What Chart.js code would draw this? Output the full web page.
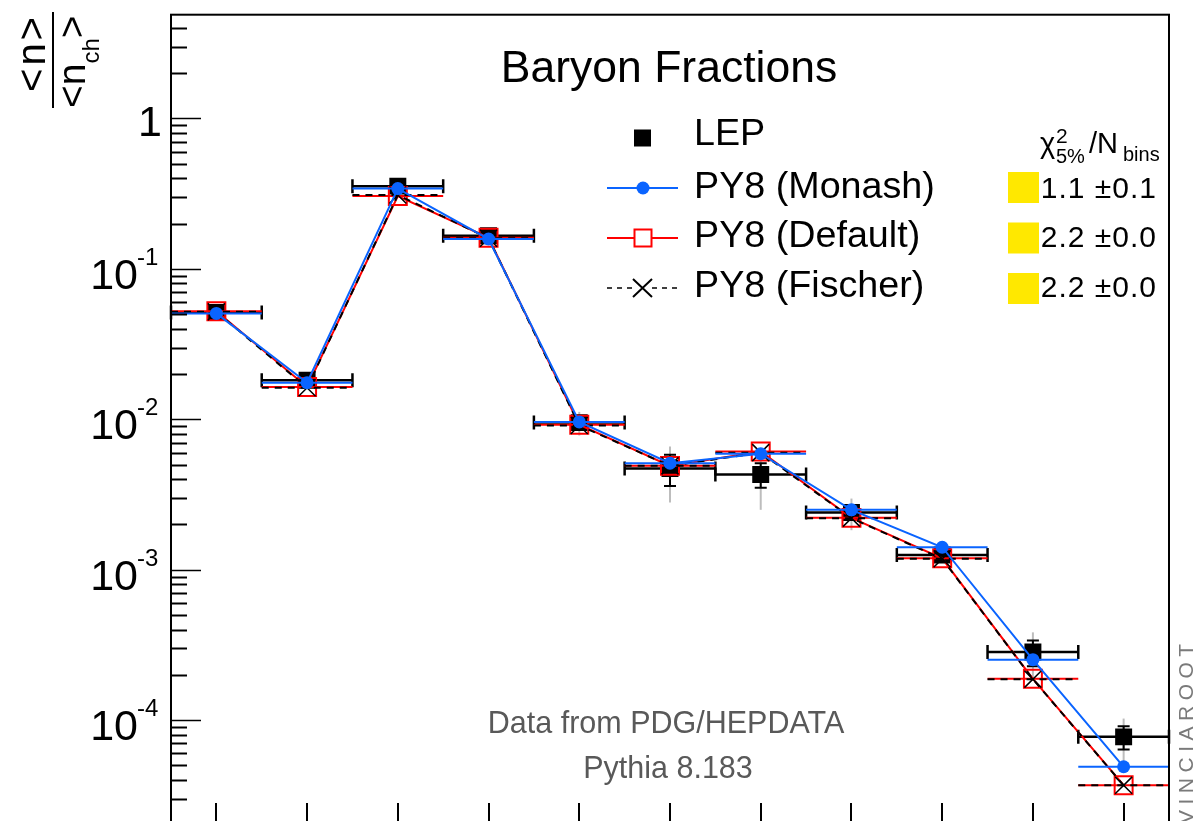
<!DOCTYPE html>
<html>
<head>
<meta charset="utf-8">
<script src="https://cdn.jsdelivr.net/npm/chart.js@4/dist/chart.umd.min.js"></script>
<style>
    html, body { margin: 0; padding: 0; width: 1197px; height: 821px; overflow: hidden; background: #ffffff; }
    #wrap { width: 1197px; height: 821px; overflow: hidden; }
    canvas { display: block; }
</style>
</head>
<body>
<div id="wrap"><canvas id="chart" width="1197" height="860"></canvas></div>
<script>
const FONT = '"Liberation Sans", Arial, Helvetica, sans-serif';
const BLUE = '#0a64ff';
const RED = '#ff0000';
const BLACK = '#000000';
const GREY_ERR = '#bdbdbd';
const YELLOW = '#ffe800';

// axis range
const Y_MIN = 1.774e-5;
const Y_MAX = 4.9;

// bins
const BIN_LOW = [0, 1, 2, 3, 4, 5, 6, 7, 8, 9, 10];
const BIN_HIGH = [1, 2, 3, 4, 5, 6, 7, 8, 9, 10, 11];

// series
const LEP = [0.0513, 0.0182, 0.355, 0.166, 0.0095, 0.0047, 0.0043, 0.0024, 0.00125, 0.000283, 0.0000773];
const LEP_STAT = [0.0008, 0.0004, 0.008, 0.004, 0.0003, 0.0011, 0.0008, 0.0002, 0.00005, 0.000055, 0.0000135];
const LEP_TOTAL = [0.0015, 0.0008, 0.015, 0.008, 0.0017, 0.0019, 0.0018, 0.00057, 0.0001, 0.0001, 0.000025];
const MONASH = [0.0506, 0.0175, 0.342, 0.158, 0.0096, 0.0051, 0.0059, 0.0025, 0.00141, 0.000252, 0.0000489];
const DEFAULT_TUNE = [0.0522, 0.0164, 0.305, 0.161, 0.0092, 0.0049, 0.0061, 0.00221, 0.00119, 0.000188, 0.0000369];
const FISCHER = [0.0518, 0.0162, 0.31, 0.16, 0.0091, 0.0049, 0.006, 0.0022, 0.00118, 0.000187, 0.0000368];

const SERIES_NAMES = ['LEP', 'PY8 (Monash)', 'PY8 (Default)', 'PY8 (Fischer)'];
const CHI2 = ['1.1 \u00b10.1', '2.2 \u00b10.0', '2.2 \u00b10.0'];

// y tick labels
const DECADES = [1e-4, 1e-3, 1e-2, 1e-1, 1];
const DECADE_EXP = ['-4', '-3', '-2', '-1', ''];

function toPoints(values) {
    return values.map((v, i) => ({ x: (BIN_LOW[i] + BIN_HIGH[i]) / 2, y: v }));
}

function font(size) {
    return `${size}px ${FONT}`;
}

// horizontal bin bars + vertical errors, drawn just before each dataset's markers
const binBars = {
    id: 'binBars',
    beforeDatasetDraw(chart, args) {
        const ds = chart.data.datasets[args.index];
        const { x, y } = chart.scales;
        const ctx = chart.ctx;
        ctx.save();

        ds.values.forEach((v, i) => {
            const px = x.getPixelForValue((BIN_LOW[i] + BIN_HIGH[i]) / 2);
            const py = y.getPixelForValue(v);

            if (ds.totalErr) {
                const e = ds.totalErr[i];
                ctx.strokeStyle = GREY_ERR;
                ctx.lineWidth = 2;
                ctx.setLineDash([]);
                ctx.beginPath();
                ctx.moveTo(px, y.getPixelForValue(v + e));
                ctx.lineTo(px, y.getPixelForValue(Math.max(v - e, Y_MIN)));
                ctx.stroke();
            }
            if (ds.statErr) {
                const e = ds.statErr[i];
                const top = y.getPixelForValue(v + e);
                const bot = y.getPixelForValue(v - e);
                ctx.strokeStyle = BLACK;
                ctx.lineWidth = 2;
                ctx.beginPath();
                ctx.moveTo(px, top);
                ctx.lineTo(px, bot);
                ctx.moveTo(px - 6, top);
                ctx.lineTo(px + 6, top);
                ctx.moveTo(px - 6, bot);
                ctx.lineTo(px + 6, bot);
                ctx.stroke();
            }

            const x0 = x.getPixelForValue(BIN_LOW[i]);
            const x1 = x.getPixelForValue(BIN_HIGH[i]);
            ctx.strokeStyle = ds.hbar.color;
            ctx.lineWidth = ds.hbar.width;
            ctx.setLineDash(ds.hbar.dash);
            ctx.beginPath();
            ctx.moveTo(x0, py);
            ctx.lineTo(x1, py);
            ctx.stroke();
            ctx.setLineDash([]);
            if (ds.hbar.caps) {
                ctx.beginPath();
                ctx.moveTo(x0, py - 7);
                ctx.lineTo(x0, py + 7);
                ctx.moveTo(x1, py - 7);
                ctx.lineTo(x1, py + 7);
                ctx.stroke();
            }
        });

        ctx.restore();
    },
};

// ROOT-like frame, ticks, labels, legend and captions
const decorations = {
    id: 'decorations',
    afterDraw(chart) {
        const ctx = chart.ctx;
        const { left, right, top, bottom } = chart.chartArea;
        const { x, y } = chart.scales;
        ctx.save();

        // frame
        ctx.strokeStyle = BLACK;
        ctx.lineWidth = 2;
        ctx.strokeRect(left, top, right - left, bottom - top);

        // y ticks (inward)
        for (let d = -6; d <= 1; d++) {
            for (let k = 1; k <= 9; k++) {
                const v = k * Math.pow(10, d);
                if (v < Y_MIN || v > Y_MAX) continue;
                const py = Math.round(y.getPixelForValue(v)) + 0.5;
                ctx.lineWidth = k === 1 ? 1.5 : 2;
                ctx.beginPath();
                ctx.moveTo(left, py);
                ctx.lineTo(left + (k === 1 ? 30 : 16), py);
                ctx.stroke();
            }
        }

        // x ticks at bin centres
        ctx.lineWidth = 2;
        BIN_LOW.forEach((lo, i) => {
            const px = Math.round(x.getPixelForValue((lo + BIN_HIGH[i]) / 2));
            ctx.beginPath();
            ctx.moveTo(px, bottom);
            ctx.lineTo(px, bottom - 30);
            ctx.stroke();
        });

        // y tick labels
        ctx.fillStyle = BLACK;
        ctx.textBaseline = 'alphabetic';
        DECADES.forEach((v, i) => {
            const py = y.getPixelForValue(v);
            if (DECADE_EXP[i] === '') {
                ctx.font = font(43);
                ctx.textAlign = 'right';
                ctx.fillText('1', 162, py + 18);
            } else {
                ctx.font = font(43);
                ctx.textAlign = 'right';
                ctx.fillText('10', 138, py + 20);
                ctx.font = font(24);
                ctx.textAlign = 'left';
                ctx.fillText(DECADE_EXP[i], 137, py - 4);
            }
        });

        // y axis title: <n> / <n_ch>, rotated
        ctx.save();
        ctx.translate(53, 60);
        ctx.rotate(-Math.PI / 2);
        ctx.lineWidth = 2;
        ctx.beginPath();
        ctx.moveTo(-48, 0);
        ctx.lineTo(48, 0);
        ctx.stroke();
        ctx.font = font(40);
        ctx.textAlign = 'center';
        ctx.letterSpacing = '3px';
        ctx.fillText('<n>', 7, -8);
        ctx.letterSpacing = '0px';
        ctx.textAlign = 'left';
        ctx.font = font(39);
        let cx = -48;
        ctx.fillText('<n', cx, 32);
        cx += ctx.measureText('<n').width;
        ctx.font = font(24);
        ctx.fillText('ch', cx, 46);
        cx += ctx.measureText('ch').width;
        ctx.font = font(39);
        ctx.fillText('>', cx, 32);
        ctx.restore();

        // title
        ctx.font = font(44.5);
        ctx.textAlign = 'center';
        ctx.fillText('Baryon Fractions', 669, 82);

        // legend
        const rows = [138, 188, 238, 288];
        const textBase = [145, 198, 247, 297];
        // LEP
        ctx.fillStyle = BLACK;
        ctx.fillRect(634, rows[0] - 8.5, 17, 17);
        // Monash
        ctx.strokeStyle = BLUE;
        ctx.lineWidth = 2;
        ctx.beginPath();
        ctx.moveTo(607, rows[1]);
        ctx.lineTo(678, rows[1]);
        ctx.stroke();
        ctx.fillStyle = BLUE;
        ctx.beginPath();
        ctx.arc(643, rows[1], 6.5, 0, Math.PI * 2);
        ctx.fill();
        // Default
        ctx.strokeStyle = RED;
        ctx.beginPath();
        ctx.moveTo(607, rows[2]);
        ctx.lineTo(634, rows[2]);
        ctx.moveTo(652, rows[2]);
        ctx.lineTo(678, rows[2]);
        ctx.stroke();
        ctx.strokeRect(634.5, rows[2] - 8.5, 17, 17);
        // Fischer
        ctx.strokeStyle = BLACK;
        ctx.lineWidth = 1.5;
        ctx.setLineDash([5, 5]);
        ctx.beginPath();
        ctx.moveTo(607, rows[3]);
        ctx.lineTo(634, rows[3]);
        ctx.moveTo(652, rows[3]);
        ctx.lineTo(680, rows[3]);
        ctx.stroke();
        ctx.setLineDash([]);
        ctx.lineWidth = 2;
        ctx.beginPath();
        ctx.moveTo(633, rows[3] - 9);
        ctx.lineTo(652, rows[3] + 9);
        ctx.moveTo(652, rows[3] - 9);
        ctx.lineTo(633, rows[3] + 9);
        ctx.stroke();

        ctx.fillStyle = BLACK;
        ctx.font = font(37.7);
        ctx.textAlign = 'left';
        SERIES_NAMES.forEach((name, i) => ctx.fillText(name, 694, textBase[i]));

        // chi2 column
        ctx.font = font(29);
        ctx.fillText('\u03c7', 1040, 153);
        ctx.font = font(21);
        ctx.fillText('2', 1056, 143);
        ctx.font = font(20);
        ctx.fillText('5%', 1056, 163);
        ctx.font = font(29);
        ctx.fillText('/N', 1089, 153);
        ctx.font = font(20);
        ctx.fillText('bins', 1123, 161);

        CHI2.forEach((txt, i) => {
            ctx.fillStyle = YELLOW;
            ctx.fillRect(1008, 172 + i * 50.5, 31, 31);
            ctx.fillStyle = BLACK;
            ctx.font = font(30);
            ctx.textAlign = 'right';
            ctx.letterSpacing = '1px';
            ctx.fillText(txt, 1157, textBase[i + 1]);
            ctx.letterSpacing = '0px';
        });

        // captions
        ctx.fillStyle = '#595959';
        ctx.font = font(30.5);
        ctx.textAlign = 'center';
        ctx.fillText('Data from PDG/HEPDATA', 666, 733);
        ctx.fillText('Pythia 8.183', 668, 778);

        // side stamp
        ctx.save();
        ctx.translate(1193, 824);
        ctx.rotate(-Math.PI / 2);
        ctx.fillStyle = '#7a7a7a';
        ctx.font = font(21);
        ctx.textAlign = 'left';
        ctx.letterSpacing = '5.5px';
        ctx.fillText('VINCIAROOT', 0, 0);
        ctx.restore();

        ctx.restore();
    },
};

new Chart(document.getElementById('chart'), {
    type: 'line',
    data: {
        datasets: [
            {
                label: SERIES_NAMES[1],
                data: toPoints(MONASH),
                values: MONASH,
                hbar: { color: BLUE, width: 2, dash: [], caps: false },
                order: 1,
                borderColor: BLUE,
                borderWidth: 2,
                pointStyle: 'circle',
                pointRadius: 6.5,
                pointBackgroundColor: BLUE,
                pointBorderWidth: 0,
                tension: 0,
            },
            {
                label: SERIES_NAMES[3],
                data: toPoints(FISCHER),
                values: FISCHER,
                hbar: { color: BLACK, width: 2, dash: [7, 6], caps: false },
                order: 2,
                borderColor: BLACK,
                borderWidth: 2,
                borderDash: [7, 6],
                pointStyle: 'crossRot',
                pointRadius: 12,
                pointBorderColor: BLACK,
                pointBorderWidth: 1.5,
                tension: 0,
            },
            {
                label: SERIES_NAMES[2],
                data: toPoints(DEFAULT_TUNE),
                values: DEFAULT_TUNE,
                hbar: { color: RED, width: 2, dash: [], caps: false },
                order: 3,
                borderColor: RED,
                borderWidth: 2,
                pointStyle: 'rect',
                pointRadius: 12.7,
                pointBackgroundColor: 'rgba(0,0,0,0)',
                pointBorderColor: RED,
                pointBorderWidth: 2,
                tension: 0,
            },
            {
                label: SERIES_NAMES[0],
                data: toPoints(LEP),
                values: LEP,
                statErr: LEP_STAT,
                totalErr: LEP_TOTAL,
                hbar: { color: BLACK, width: 2.5, dash: [], caps: true },
                order: 4,
                showLine: false,
                pointStyle: 'rect',
                pointRadius: 12,
                pointBackgroundColor: BLACK,
                pointBorderWidth: 0,
            },
        ],
    },
    options: {
        responsive: false,
        animation: false,
        events: [],
        layout: { padding: { left: 171, right: 28, top: 13, bottom: 27 } },
        plugins: {
            legend: { display: false },
            tooltip: { enabled: false },
        },
        scales: {
            x: { type: 'linear', min: 0, max: 11, display: false },
            y: { type: 'logarithmic', min: Y_MIN, max: Y_MAX, display: false },
        },
    },
    plugins: [binBars, decorations],
});
</script>
</body>
</html>
